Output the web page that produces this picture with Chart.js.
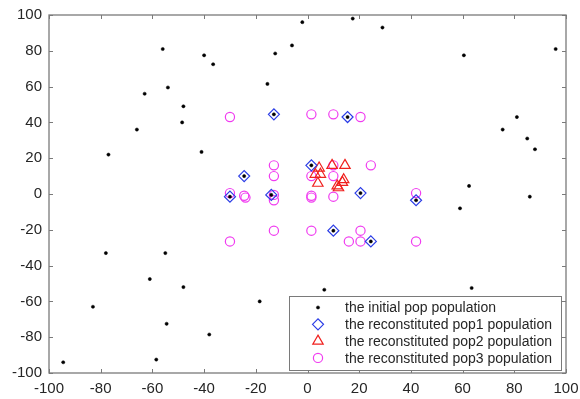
<!DOCTYPE html>
<html>
<head>
<meta charset="utf-8">
<script src="https://cdn.jsdelivr.net/npm/chart.js@4/dist/chart.umd.min.js"></script>
<style>
  body { margin: 0; background: #fff; }
  #chart { display: block; }
</style>
</head>
<body>
<canvas id="chart" width="580" height="399"></canvas>
<script>
// values
const ticks = [-100, -80, -60, -40, -20, 0, 20, 40, 60, 80, 100];

const initialX = [-2, -56, -40, -36.5, -12.5, -6, -63, -54, -15.5, -48, -66, -48.5, -77, -41, -13, -24.5, -30, -14,
    17.5, 29, 60.5, 96, 81, 75.5, 85, 88, 62.5, 86, 15.5, 1.5, 20.5,
    -78, -55, -61, -48, -83, -18.5, -54.5, -38, -94.5, -58.5, 59, 42, 10, 24.5, 6.5, 63.5];
const initialY = [96, 81, 77.5, 72.5, 78.5, 83, 56, 59.5, 61.5, 49, 36, 40, 22, 23.5, 44.5, 10, -1.5, -0.5,
    98, 93, 77.5, 81, 43, 36, 31, 25, 4.5, -1.5, 43, 16, 0.5,
    -33, -33, -47.5, -52, -63, -60, -72.5, -78.5, -94, -92.5, -8, -3.5, -20.5, -26.5, -53.5, -52.5];

const pop1X = [-13, 15.5, -24.5, 1.5, -30, -14, 20.5, 42, 10, 24.5];
const pop1Y = [44.5, 43, 10, 16, -1.5, -0.5, 0.5, -3.5, -20.5, -26.5];

const pop2X = [4.5, 3, 5, 4, 9.5, 14.5, 14, 13.5, 11.5, 12];
const pop2Y = [14.5, 11, 11, 6, 16, 16, 8, 6.5, 4.5, 3.5];

const pop3X = [-30, 1.5, 10, 20.5, -13, 10, 24.5, -13, 1.5, 10,
    -30, -24.5, -24, -13, -13, 1.5, 1.5, 10, 42,
    -30, -13, 1.5, 20.5, 16, 20.5, 42];
const pop3Y = [43, 44.5, 44.5, 43, 16, 16, 16, 10, 10, 10,
    0.5, -1, -2, -0.5, -3.5, -1, -2, -1.5, 0.5,
    -26.5, -20.5, -20.5, -20.5, -26.5, -26.5, -26.5];

const seriesNames = [
    'the initial pop population',
    'the reconstituted pop1 population',
    'the reconstituted pop2 population',
    'the reconstituted pop3 population'
];

const FONT = '"Liberation Sans", Arial, sans-serif';
const AXIS_COLOR = '#7a7a7a';

function toPoints(xs, ys) {
    return xs.map((x, i) => ({ x: x, y: ys[i] }));
}

// MATLAB style box with inward ticks on all four sides
const boxPlugin = {
    id: 'box',
    afterDatasetsDraw(chart) {
        const { ctx, chartArea: a, scales } = chart;
        const len = 4;
        ctx.save();
        ctx.strokeStyle = AXIS_COLOR;
        ctx.lineWidth = 1.3;
        ctx.strokeRect(a.left, a.top, a.right - a.left, a.bottom - a.top);
        ctx.lineWidth = 1;
        ctx.beginPath();
        ticks.forEach(v => {
            const px = Math.round(scales.x.getPixelForValue(v)) + 0.5;
            ctx.moveTo(px, a.bottom); ctx.lineTo(px, a.bottom - len);
            ctx.moveTo(px, a.top); ctx.lineTo(px, a.top + len);
            const py = Math.round(scales.y.getPixelForValue(v)) + 0.5;
            ctx.moveTo(a.left, py); ctx.lineTo(a.left + len, py);
            ctx.moveTo(a.right, py); ctx.lineTo(a.right - len, py);
        });
        ctx.stroke();
        ctx.restore();
    }
};

// legend box in the lower right corner of the axes
const legendPlugin = {
    id: 'boxLegend',
    afterDraw(chart) {
        const { ctx, chartArea: a } = chart;
        const w = 272, h = 74;
        const x0 = a.right - 5 - w, y0 = a.bottom - 3 - h;
        ctx.save();
        ctx.fillStyle = '#fff';
        ctx.fillRect(x0, y0, w, h);
        ctx.strokeStyle = AXIS_COLOR;
        ctx.lineWidth = 1;
        ctx.strokeRect(Math.round(x0) + 0.5, Math.round(y0) + 0.5, w, h);
        ctx.font = '14px ' + FONT;
        ctx.textBaseline = 'middle';
        chart.data.datasets.forEach((ds, i) => {
            const cy = y0 + 11.5 + i * 16.8;
            const cx = x0 + 29;
            ctx.strokeStyle = ds.borderColor;
            ctx.fillStyle = ds.backgroundColor;
            ctx.lineWidth = ds.borderWidth;
            Chart.helpers.drawPoint(ctx, {
                pointStyle: ds.pointStyle,
                radius: ds.pointRadius,
                borderWidth: ds.borderWidth,
                rotation: 0
            }, cx, cy);
            ctx.fillStyle = '#262626';
            ctx.fillText(ds.label, x0 + 56, cy + 1);
        });
        ctx.restore();
    }
};

const scaleOpts = {
    type: 'linear',
    min: -100,
    max: 100,
    grid: { display: false, drawTicks: false },
    border: { display: false },
    ticks: {
        stepSize: 20,
        color: '#262626',
        font: { size: 15, family: FONT },
        maxRotation: 0,
        autoSkip: false
    }
};

new Chart(document.getElementById('chart').getContext('2d'), {
    type: 'scatter',
    data: {
        datasets: [
            {
                label: seriesNames[0],
                data: toPoints(initialX, initialY),
                pointStyle: 'circle',
                pointRadius: 1.6,
                borderWidth: 0.5,
                borderColor: '#000',
                backgroundColor: '#000'
            },
            {
                label: seriesNames[1],
                data: toPoints(pop1X, pop1Y),
                pointStyle: 'rectRot',
                pointRadius: 5.5,
                borderWidth: 1.2,
                borderColor: '#2a3ce6',
                backgroundColor: 'rgba(0,0,0,0)'
            },
            {
                label: seriesNames[2],
                data: toPoints(pop2X, pop2Y),
                pointStyle: 'triangle',
                pointRadius: 6,
                borderWidth: 1.2,
                borderColor: '#f0201e',
                backgroundColor: 'rgba(0,0,0,0)'
            },
            {
                label: seriesNames[3],
                data: toPoints(pop3X, pop3Y),
                pointStyle: 'circle',
                pointRadius: 4.6,
                borderWidth: 1.2,
                borderColor: '#f03cf0',
                backgroundColor: 'rgba(0,0,0,0)'
            }
        ]
    },
    options: {
        responsive: false,
        animation: false,
        layout: { padding: { left: 0, top: 15, right: 14, bottom: 0 } },
        scales: {
            x: Object.assign({}, scaleOpts, {
                position: 'bottom',
                ticks: Object.assign({}, scaleOpts.ticks, { padding: 7 }),
                afterFit(scale) {
                    scale.height = 26;
                    scale.paddingLeft = 0;
                    scale.paddingRight = 0;
                }
            }),
            y: Object.assign({}, scaleOpts, {
                position: 'left',
                ticks: Object.assign({}, scaleOpts.ticks, { padding: 7 }),
                afterFit(scale) {
                    scale.width = 49;
                    scale.paddingTop = 0;
                    scale.paddingBottom = 0;
                }
            })
        },
        plugins: {
            legend: { display: false },
            tooltip: { enabled: false }
        }
    },
    plugins: [boxPlugin, legendPlugin]
});
</script>
</body>
</html>
